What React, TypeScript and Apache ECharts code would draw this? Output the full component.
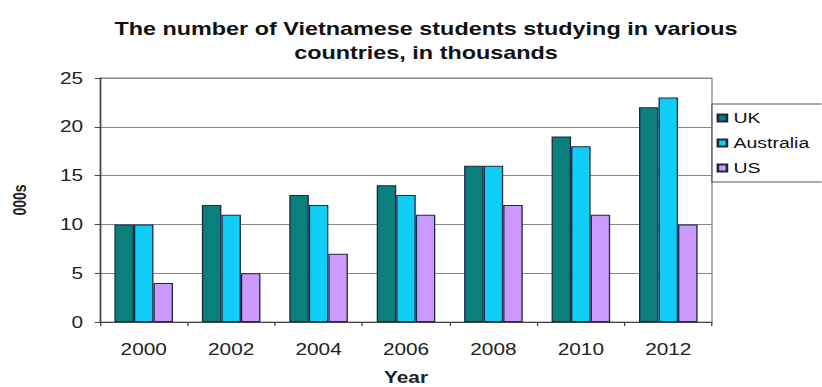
import React, { useEffect, useRef } from "react";
import * as echarts from "echarts";

// ---- data ----
const YEARS = ["2000", "2002", "2004", "2006", "2008", "2010", "2012"];
const UK = [10, 12, 13, 14, 16, 19, 22];
const AUSTRALIA = [10, 11, 12, 13, 16, 18, 23];
const US = [4, 5, 7, 11, 12, 11, 10];
const SERIES_NAMES = ["UK", "Australia", "US"];
const TITLE = "The number of Vietnamese students studying in various\ncountries, in thousands";
const X_NAME = "Year";
const Y_NAME = "000s";

// ---- presentation ----
const SCALE = 1.3; // the reference is horizontally stretched
const W = 822 / SCALE;
const H = 387;
const FONT = 'Arial, "Liberation Sans", sans-serif';
const COLORS = ["#0a7f7c", "#10cdf8", "#cc99ff"];
const BORDER = "#1b2a44";

const PLOT_LEFT = 100 / SCALE;
const PLOT_RIGHT = 712 / SCALE;

export default function App() {
  const ref = useRef<HTMLDivElement>(null);
  useEffect(() => {
    document.body.style.overflow = "hidden";
    const chart = echarts.init(ref.current as HTMLDivElement, null, {
      renderer: "svg",
      width: W,
      height: H,
    });
    const data = [UK, AUSTRALIA, US];
    chart.setOption({
      animation: false,
      backgroundColor: "#ffffff",
      textStyle: { fontFamily: FONT },
      title: {
        text: TITLE,
        left: 426 / SCALE,
        top: 17,
        textAlign: "center",
        padding: 0,
        textStyle: {
          fontFamily: FONT,
          fontSize: 18,
          fontWeight: "bold",
          lineHeight: 24,
          color: "#111",
        },
      },
      legend: {
        orient: "vertical",
        left: PLOT_RIGHT,
        top: 104,
        padding: [6.5, 20, 6.5, 3.5],
        itemGap: 10,
        itemWidth: 7,
        itemHeight: 7,
        icon: "rect",
        borderColor: "#555",
        borderWidth: 1,
        backgroundColor: "#fff",
        data: SERIES_NAMES,
        textStyle: { fontFamily: FONT, fontSize: 15, lineHeight: 15, color: "#111" },
      },
      grid: {
        left: PLOT_LEFT,
        right: W - PLOT_RIGHT,
        top: 78,
        bottom: H - 322,
        show: true,
        borderColor: "#888",
        borderWidth: 1,
        backgroundColor: "#fff",
        containLabel: false,
        outerBoundsMode: "none",
      },
      xAxis: {
        type: "category",
        data: YEARS,
        axisLine: { show: true, lineStyle: { color: "#444", width: 1 } },
        axisTick: { show: true, length: 4, lineStyle: { color: "#444" } },
        axisLabel: { fontFamily: FONT, fontSize: 16, margin: 19, color: "#222" },
        name: X_NAME,
        nameLocation: "middle",
        nameGap: 47,
        nameTextStyle: { fontFamily: FONT, fontSize: 16, fontWeight: "bold", color: "#222" },
      },
      yAxis: {
        type: "value",
        min: 0,
        max: 25,
        interval: 5,
        axisLine: { show: true, lineStyle: { color: "#444", width: 1 } },
        axisTick: { show: true, length: 4, lineStyle: { color: "#444" } },
        axisLabel: { fontFamily: FONT, fontSize: 16, margin: 13, color: "#222" },
        splitLine: { show: true, lineStyle: { color: "#888", width: 1 } },
        name: Y_NAME,
        nameLocation: "middle",
        nameGap: 55,
        nameRotate: 90,
        nameTextStyle: { fontFamily: FONT, fontSize: 14, fontWeight: "bold", color: "#222" },
      },
      series: SERIES_NAMES.map((name, i) => ({
        name,
        type: "bar",
        data: data[i],
        barGap: "0%",
        barCategoryGap: "33%",
        itemStyle: { color: COLORS[i], borderColor: BORDER, borderWidth: 1 },
        emphasis: { disabled: true },
      })),
    });
    return () => chart.dispose();
  }, []);
  return (
    <div
      ref={ref}
      style={{
        position: "absolute",
        left: 0,
        top: 0,
        width: W,
        height: H,
        transform: `scaleX(${SCALE})`,
        transformOrigin: "0 0",
      }}
    />
  );
}
